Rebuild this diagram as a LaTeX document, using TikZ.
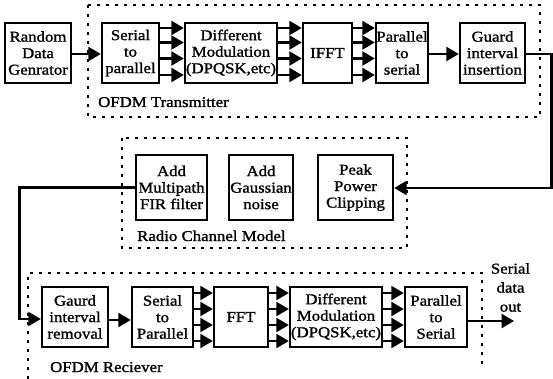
\documentclass[tikz,border=0pt]{standalone}
\usepackage{fontspec}
\setmainfont[FakeBold=1.3,FakeStretch=1.12]{Liberation Serif}
\usetikzlibrary{arrows.meta}
\begin{document}
\begin{tikzpicture}[x=1pt,y=-1pt,
  blk/.style={draw, line width=2.4pt, inner sep=0pt, align=center, minimum height=60pt,
    font=\fontsize{15}{16.5}\selectfont},
  conn/.style={line width=2.4pt, -{Triangle[length=12.5pt,width=14pt]}},
  grp/.style={line width=2.6pt, dash pattern=on 2.6pt off 6.4pt},
  lbl/.style={font=\fontsize{15}{16.5}\selectfont, anchor=base west, inner sep=0pt}]
\useasboundingbox (0,0) rectangle (553,379);

% groups
\draw[grp] (88,5) rectangle (540,117);
\draw[grp] (122,138) rectangle (407,248);
\draw[grp] (28,379) -- (28,273) -- (482,273) -- (482,368);

% transmitter
\node[blk, minimum width=66pt] (gen) at (38,53) {Random\\Data\\Genrator};
\node[blk, minimum width=57pt] (s2p) at (130.5,53) {Serial\\to\\parallel};
\node[blk, minimum width=92pt] (mod) at (231,53) {Different\\Modulation\\(DPQSK,etc)};
\node[blk, minimum width=49pt] (ifft) at (327.5,53) {IFFT};
\node[blk, minimum width=52pt] (p2s) at (402,53) {Parallel\\to\\serial};
\node[blk, minimum width=65pt] (gi) at (492.5,53) {Guard\\interval\\insertion};
\node[lbl] (lt) at (98,107) {OFDM Transmitter};

% channel
\node[blk, minimum width=71pt, minimum height=65pt] (mp) at (171.5,187.5) {Add\\Multipath\\FIR filter};
\node[blk, minimum width=64pt, minimum height=65pt] (gn) at (261,187.5) {Add\\Gaussian\\noise};
\node[blk, minimum width=75pt, minimum height=65pt] (pp) at (355.5,187.5) {Peak\\Power\\Clipping};
\node[lbl] (lc) at (137,241) {Radio Channel Model};

% receiver
\node[blk, minimum width=66pt] (grem) at (75,317) {Gaurd\\interval\\removal};
\node[blk, minimum width=61pt] (rs2p) at (162.5,317) {Serial\\to\\Parallel};
\node[blk, minimum width=54pt] (fft) at (241,317) {FFT};
\node[blk, minimum width=92pt] (rmod) at (336,317) {Different\\Modulation\\(DPQSK,etc)};
\node[blk, minimum width=62pt] (rp2s) at (436,317) {Parallel\\to\\Serial};
\node[lbl] (lr) at (50,372) {OFDM Reciever};
\node[font=\fontsize{15}{19}\selectfont, align=center, anchor=north, inner sep=0pt] (sdo) at (510.5,263) {Serial\\data\\out};

% coordinates
\coordinate (br) at (551.5,188);
\coordinate (cl) at (19.5,319);
\coordinate (out) at (514,321);

% transmitter connectors
\draw[conn] (gen.east |- 0,54) -- (s2p.west |- 0,54);
\foreach \y in {28,42.5,58.5,75}{
  \draw[conn] (s2p.east |- 0,\y) -- (mod.west |- 0,\y);
  \draw[conn] (mod.east |- 0,\y) -- (ifft.west |- 0,\y);
  \draw[conn] (ifft.east |- 0,\y) -- (p2s.west |- 0,\y);
}
\draw[conn] (p2s.east |- 0,54) -- (gi.west |- 0,54);
\draw[conn] (gi.east |- 0,54) -| (br) -- (pp.east |- br);

% channel to receiver
\draw[conn] (mp.west) -| (cl) -- (grem.west |- cl);

% receiver connectors
\draw[conn] (grem.east |- 0,320) -- (rs2p.west |- 0,320);
\foreach \y in {293,309,325,341}{
  \draw[conn] (rs2p.east |- 0,\y) -- (fft.west |- 0,\y);
  \draw[conn] (fft.east |- 0,\y) -- (rmod.west |- 0,\y);
  \draw[conn] (rmod.east |- 0,\y) -- (rp2s.west |- 0,\y);
}
\draw[conn] (rp2s.east |- out) -- (out);
\end{tikzpicture}
\end{document}
